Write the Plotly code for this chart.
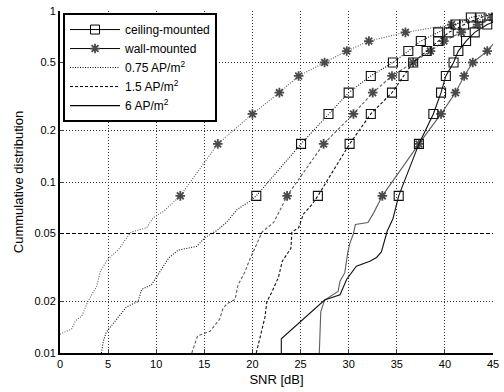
import plotly.graph_objects as go

# ---------------- data ----------------
MARK_LEVELS = [0.083, 0.167, 0.25, 0.333, 0.417, 0.5, 0.583, 0.667, 0.75, 0.833, 0.917]

# ceiling-mounted, 0.75 AP/m2 (dotted)
c075_tail_x = [4.3, 4.5, 4.8, 5.7, 6.9, 8.1, 8.5, 9.5, 10.4, 10.7, 11.3, 12.3, 14.2, 15.1, 16.3, 17.3, 18.4, 19.7]
c075_tail_y = [0.010, 0.0117, 0.0132, 0.0154, 0.0186, 0.020, 0.0236, 0.025, 0.030, 0.032, 0.036, 0.040, 0.042, 0.0475, 0.052, 0.058, 0.069, 0.077]
c075_mark_x = [20.4, 25.05, 27.9, 30.0, 32.3, 34.6, 36.2, 37.5, 39.3, 41.1, 42.7]
c075_end = (45.0, 0.975)

# ceiling-mounted, 1.5 AP/m2 (dashed)
c15_tail_x = [20.4, 20.8, 21.3, 21.5, 22.0, 22.7, 23.1, 24.0, 24.1, 24.8, 25.3, 26.2]
c15_tail_y = [0.010, 0.0126, 0.0162, 0.020, 0.0226, 0.0277, 0.0344, 0.041, 0.051, 0.054, 0.065, 0.074]
c15_mark_x = [26.8, 30.1, 32.3, 34.5, 35.7, 36.7, 38.1, 39.3, 40.4, 42.0, 43.7]
c15_end = (45.0, 0.96)

# ceiling-mounted, 6 AP/m2 (solid)
c6_tail_x = [23.0, 23.0, 27.5, 29.1, 29.8, 30.8, 32.2, 32.9, 33.4, 33.7, 34.0, 34.6, 35.0]
c6_tail_y = [0.010, 0.0121, 0.0204, 0.0219, 0.027, 0.0322, 0.0344, 0.0362, 0.039, 0.045, 0.0515, 0.061, 0.074]
c6_mark_x = [35.2, 37.3, 38.8, 39.6, 40.1, 40.9, 41.4, 42.2, 43.1, 44.4]
c6_end = (45.0, 0.86)

# wall-mounted, 0.75 AP/m2 (dotted)
w075_tail_x = [0.0, 1.2, 1.6, 2.25, 2.9, 3.8, 4.2, 4.9, 5.5, 6.2, 6.8, 7.4, 9.0, 9.7, 10.7, 11.8]
w075_tail_y = [0.0129, 0.0138, 0.0154, 0.0164, 0.020, 0.0245, 0.030, 0.035, 0.0376, 0.041, 0.046, 0.051, 0.054, 0.062, 0.067, 0.077]
w075_mark_x = [12.5, 16.4, 20.0, 22.8, 24.8, 27.5, 29.8, 32.1, 35.9, 40.7, 44.9]
w075_end = (45.0, 0.93)

# wall-mounted, 1.5 AP/m2 (dashed)
w15_tail_x = [13.7, 14.3, 15.6, 16.6, 16.9, 17.3, 18.2, 18.5, 19.2, 19.7, 21.0, 22.2, 22.9]
w15_tail_y = [0.010, 0.0126, 0.0134, 0.0158, 0.018, 0.0193, 0.0206, 0.025, 0.0297, 0.035, 0.051, 0.058, 0.069]
w15_mark_x = [23.6, 27.4, 30.5, 32.5, 34.5, 36.7, 38.5, 39.9, 41.7, 43.4, 45.0]
w15_end = (45.0, 0.92)

# wall-mounted, 6 AP/m2 (solid)
w6_tail_x = [26.95, 27.0, 27.1, 27.5, 28.9, 29.1, 29.6, 29.9, 30.1, 30.5, 30.7, 32.0, 32.6]
w6_tail_y = [0.010, 0.0144, 0.0174, 0.0204, 0.0229, 0.0263, 0.0295, 0.0385, 0.0433, 0.050, 0.0565, 0.058, 0.066]
w6_mark_x = [33.5, 37.3, 39.6, 41.1, 42.0, 42.9, 44.4]
w6_end = (45.0, 0.64)

THRESHOLD = 0.05
X_TICKS = [0, 5, 10, 15, 20, 25, 30, 35, 40, 45]
Y_TICKS = [0.01, 0.02, 0.05, 0.1, 0.2, 0.5, 1]
Y_TICK_TEXT = ["0.01", "0.02", "0.05", "0.1", "0.2", "0.5", "1"]

# ---------------- styles ----------------
CEIL_COLOR = "#111111"
WALL_COLOR = "#5e5e5e"
WALL_MARK = "#4a4a4a"
DOT = "1px,1.5px"
DASH = "3px,2px"

fig = go.Figure()


def add_curve(tail_x, tail_y, mark_x, end, color, mcolor, dash, symbol, msize, mwidth):
    levels = MARK_LEVELS[:len(mark_x)]
    xs = list(tail_x) + list(mark_x) + [end[0]]
    ys = list(tail_y) + levels + [end[1]]
    fig.add_trace(go.Scatter(x=xs, y=ys, mode="lines",
                             line=dict(color=color, width=1.1, dash=dash),
                             showlegend=False, hoverinfo="skip"))
    fig.add_trace(go.Scatter(x=mark_x, y=levels, mode="markers",
                             marker=dict(symbol=symbol, size=msize, color=mcolor,
                                         line=dict(color=mcolor, width=mwidth)),
                             showlegend=False, hoverinfo="skip"))


add_curve(w075_tail_x, w075_tail_y, w075_mark_x, w075_end, WALL_COLOR, WALL_MARK, DOT, "asterisk-open", 8, 1.8)
add_curve(w15_tail_x, w15_tail_y, w15_mark_x, w15_end, WALL_COLOR, WALL_MARK, DASH, "asterisk-open", 8, 1.8)
add_curve(w6_tail_x, w6_tail_y, w6_mark_x, w6_end, WALL_COLOR, WALL_MARK, "solid", "asterisk-open", 8, 1.8)
add_curve(c075_tail_x, c075_tail_y, c075_mark_x, c075_end, CEIL_COLOR, CEIL_COLOR, DOT, "square-open", 9, 1.1)
add_curve(c15_tail_x, c15_tail_y, c15_mark_x, c15_end, CEIL_COLOR, CEIL_COLOR, DASH, "square-open", 9, 1.1)
add_curve(c6_tail_x, c6_tail_y, c6_mark_x, c6_end, CEIL_COLOR, CEIL_COLOR, "solid", "square-open", 9, 1.1)

fig.add_hline(y=THRESHOLD, line=dict(color="black", width=1.2, dash="4px,2px"))

# legend-only entries
fig.add_trace(go.Scatter(x=[None], y=[None], mode="lines+markers", name="ceiling-mounted",
                         line=dict(color="black", width=1),
                         marker=dict(symbol="square-open", size=9, color="black")))
fig.add_trace(go.Scatter(x=[None], y=[None], mode="lines+markers", name="wall-mounted",
                         line=dict(color="black", width=1),
                         marker=dict(symbol="asterisk-open", size=8, color=WALL_MARK,
                                     line=dict(color=WALL_MARK, width=1.8))))
fig.add_trace(go.Scatter(x=[None], y=[None], mode="lines", name="0.75 AP/m<sup>2</sup>",
                         line=dict(color="black", width=1, dash=DOT)))
fig.add_trace(go.Scatter(x=[None], y=[None], mode="lines", name="1.5 AP/m<sup>2</sup>",
                         line=dict(color="black", width=1, dash=DASH)))
fig.add_trace(go.Scatter(x=[None], y=[None], mode="lines", name="6 AP/m<sup>2</sup>",
                         line=dict(color="black", width=1.2)))

FONT = "Liberation Sans, Arial, sans-serif"
fig.update_layout(
    width=504, height=392,
    margin=dict(l=60, r=11, t=11, b=39, autoexpand=False),
    paper_bgcolor="white", plot_bgcolor="white",
    font=dict(family=FONT, size=11, color="black"),
    legend=dict(x=0.007, y=0.994, xanchor="left", yanchor="top",
                bgcolor="white", bordercolor="black", borderwidth=2,
                font=dict(size=12), itemwidth=50, tracegroupgap=0),
)
fig.update_xaxes(range=[0, 45], tickvals=X_TICKS, ticks="inside", ticklen=4,
                 showline=True, linecolor="black", linewidth=2, automargin=False,
                 showgrid=True, gridcolor="#333333", griddash="1px,2px", gridwidth=1,
                 zeroline=False, title=dict(text="SNR [dB]", standoff=6))
fig.update_yaxes(type="log", range=[-2, 0], tickvals=Y_TICKS, ticktext=Y_TICK_TEXT,
                 ticks="inside", ticklen=4, automargin=False,
                 showline=True, linecolor="black", linewidth=2,
                 showgrid=True, gridcolor="#333333", griddash="1px,2px", gridwidth=1,
                 zeroline=False, title=dict(text="Cummulative distribution", standoff=8))

fig.write_html("out.html", config={"displayModeBar": False},
               post_script="document.body.style.margin='0';document.body.style.overflow='hidden';")
